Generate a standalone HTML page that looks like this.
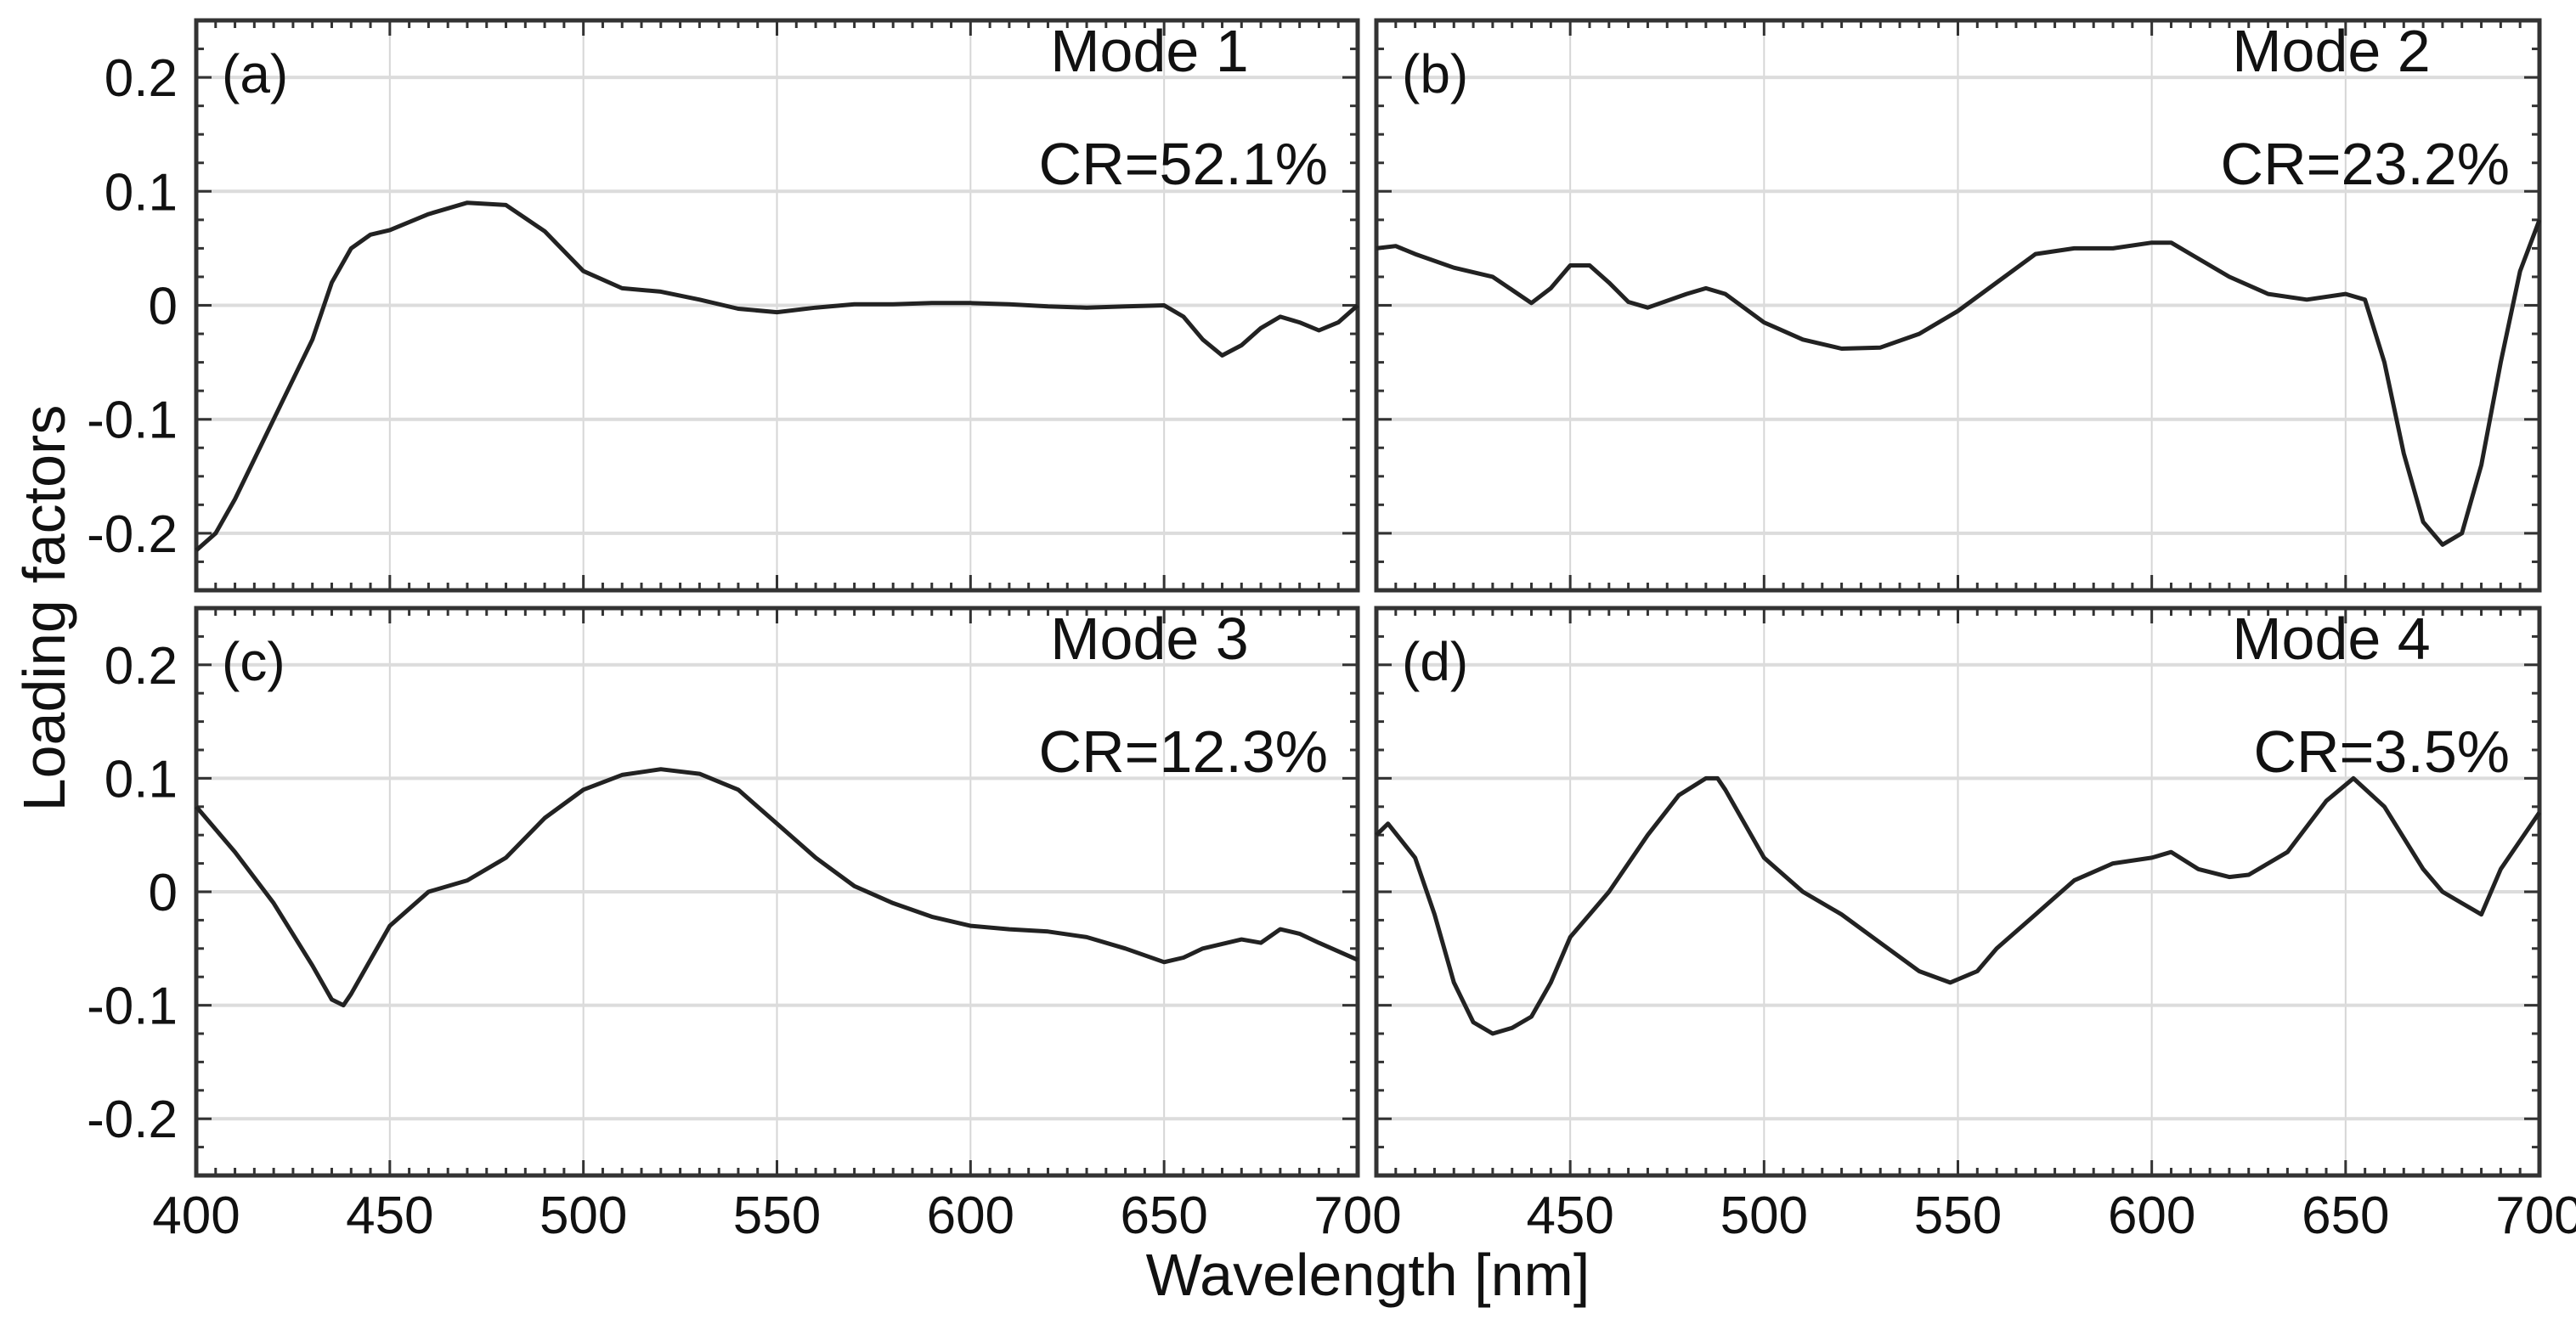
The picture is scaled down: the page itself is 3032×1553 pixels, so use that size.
<!DOCTYPE html>
<html><head><meta charset="utf-8"><style>
html,body{margin:0;padding:0;background:#fff}
svg{display:block}
text{font-family:"Liberation Sans",sans-serif;fill:#111}
</style></head><body>
<svg id="fig" width="3032" height="1553" viewBox="0 0 3032 1553"></svg>
<script>
const wl = [400,450,500,550,600,650,700];
const yTicks = [0.2,0.1,0,-0.1,-0.2];
const yTickLabels = ["0.2","0.1","0","-0.1","-0.2"];
const panelLetters = ["(a)","(b)","(c)","(d)"];
const modeNames = ["Mode 1","Mode 2","Mode 3","Mode 4"];
const crLabels = ["CR=52.1%","CR=23.2%","CR=12.3%","CR=3.5%"];

const xA = [400,405,410,420,430,435,440,445,450,460,470,480,490,500,510,520,530,540,550,560,570,580,590,600,610,620,630,640,650,655,660,665,670,675,680,685,690,695,700];
const yA = [-0.215,-0.2,-0.17,-0.1,-0.03,0.02,0.05,0.062,0.066,0.08,0.09,0.088,0.065,0.03,0.015,0.012,0.005,-0.003,-0.006,-0.002,0.001,0.001,0.002,0.002,0.001,-0.001,-0.002,-0.001,0,-0.01,-0.03,-0.044,-0.035,-0.02,-0.01,-0.015,-0.022,-0.015,0];
const xB = [400,405,410,420,430,440,445,450,455,460,465,470,480,485,490,500,510,520,530,540,550,560,570,580,590,600,605,610,620,630,640,650,655,660,665,670,675,680,685,690,695,700];
const yB = [0.05,0.052,0.045,0.033,0.025,0.002,0.015,0.035,0.035,0.02,0.003,-0.002,0.01,0.015,0.01,-0.015,-0.03,-0.038,-0.037,-0.025,-0.005,0.02,0.045,0.05,0.05,0.055,0.055,0.045,0.025,0.01,0.005,0.01,0.005,-0.05,-0.13,-0.19,-0.21,-0.2,-0.14,-0.05,0.03,0.075];
const xC = [400,410,420,430,435,438,440,445,450,460,470,480,490,500,510,520,530,540,550,560,570,580,590,600,610,620,630,640,650,655,660,670,675,680,685,690,700];
const yC = [0.075,0.035,-0.01,-0.065,-0.095,-0.1,-0.09,-0.06,-0.03,0.0,0.01,0.03,0.065,0.09,0.103,0.108,0.104,0.09,0.06,0.03,0.005,-0.01,-0.022,-0.03,-0.033,-0.035,-0.04,-0.05,-0.062,-0.058,-0.05,-0.042,-0.045,-0.033,-0.037,-0.045,-0.06];
const xD = [400,403,410,415,420,425,430,435,440,445,450,455,460,470,478,485,488,490,500,510,520,530,540,548,555,560,570,580,590,600,605,612,620,625,635,645,652,660,670,675,680,685,690,700];
const yD = [0.05,0.06,0.03,-0.02,-0.08,-0.115,-0.125,-0.12,-0.11,-0.08,-0.04,-0.02,0.0,0.05,0.085,0.1,0.1,0.09,0.03,0.0,-0.02,-0.045,-0.07,-0.08,-0.07,-0.05,-0.02,0.01,0.025,0.03,0.035,0.02,0.013,0.015,0.035,0.08,0.1,0.075,0.02,0.0,-0.01,-0.02,0.02,0.07];

const seriesX=[xA,xB,xC,xD], seriesY=[yA,yB,yC,yD];
const NS="http://www.w3.org/2000/svg";
const svg=document.getElementById('fig');
function mk(tag,attrs,parent){const e=document.createElementNS(NS,tag);for(const k in attrs)e.setAttribute(k,attrs[k]);(parent||svg).appendChild(e);return e;}

const boxes=[[231,24,1598,695],[1620,24,2989,695],[231,716,1598,1384],[1620,716,2989,1384]];
boxes.forEach((b,i)=>{
  const [L,T,R,B]=b;
  const g=mk('g',{});
  
  
  const sx=v=>L+(v-400)/300*(R-L);
  const sy=v=>T+(0.25-v)/0.5*(B-T);
  wl.slice(1,-1).forEach(v=>{const l=mk('line',{x1:sx(v),x2:sx(v),y1:T,y2:B,stroke:'#d6d6d6','stroke-width':2},g);
    
    });
  yTicks.forEach(v=>{const l=mk('line',{x1:L,x2:R,y1:sy(v),y2:sy(v),stroke:'#dcdcdc','stroke-width':4},g);
    
    });
  for(let v=405;v<700;v+=5){const len=(v%50===0)?18:9;
    mk('line',{x1:sx(v),x2:sx(v),y1:B,y2:B-len,stroke:'#333','stroke-width':3},g);
    mk('line',{x1:sx(v),x2:sx(v),y1:T,y2:T+len,stroke:'#333','stroke-width':3},g);}
  for(let k=-9;k<=9;k++){const v=k*0.025;const len=(k%4===0)?18:9;
    mk('line',{x1:L,x2:L+len,y1:sy(v),y2:sy(v),stroke:'#333','stroke-width':3},g);
    mk('line',{x1:R,x2:R-len,y1:sy(v),y2:sy(v),stroke:'#333','stroke-width':3},g);}
  const fr=mk('rect',{x:L,y:T,width:R-L,height:B-T,fill:'none',stroke:'#333','stroke-width':5},g);
  
  
  const pts=seriesX[i].map((x,j)=>sx(x).toFixed(1)+','+sy(seriesY[i][j]).toFixed(1)).join(' ');
  const pl=mk('polyline',{points:pts,fill:'none',stroke:'#222','stroke-width':5,'stroke-linejoin':'round'},g);
  
  
  const lt=mk('text',{x:L+30,y:T+85,'font-size':64},g); lt.textContent=panelLetters[i];
  
  
  const m=mk('text',{x:R-245,y:T+60,'font-size':70,'text-anchor':'middle'},g); m.textContent=modeNames[i];
  
  
  const c=mk('text',{x:R-35,y:T+193,'font-size':70,'text-anchor':'end'},g); c.textContent=crLabels[i];
  
  
  if(i%2===0){yTicks.forEach((v,j)=>{const t=mk('text',{x:L-22,y:sy(v)+22,'font-size':62,'text-anchor':'end'},g);t.textContent=yTickLabels[j];
    
    });}
  if(i>=2){wl.forEach(v=>{if(i===3&&v===400)return;const t=mk('text',{x:sx(v),y:B+68,'font-size':62,'text-anchor':'middle'},g);t.textContent=String(v);
    
    });}
});
const yl=mk('text',{x:0,y:0,'font-size':70,'text-anchor':'middle',transform:'translate(76,716) rotate(-90)'});
yl.textContent='Loading factors';


const xl=mk('text',{x:1610,y:1525,'font-size':70,'text-anchor':'middle'});
xl.textContent='Wavelength [nm]';


</script>
</body></html>
